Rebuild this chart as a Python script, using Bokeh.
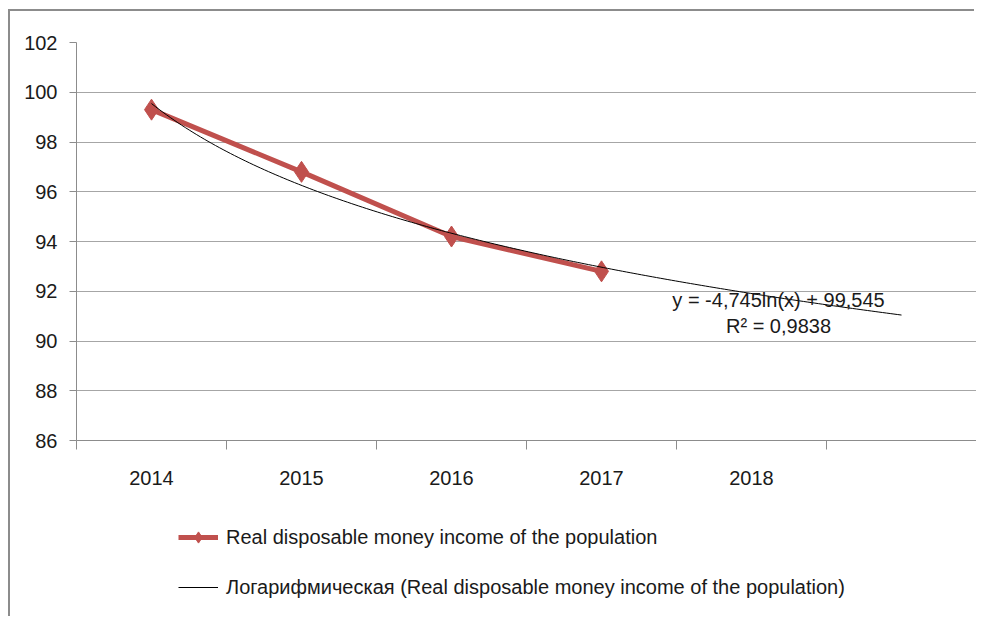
import numpy as np
from bokeh.plotting import figure
from bokeh.layouts import column
from bokeh.models import (Range1d, FixedTicker, Legend, LegendItem, Label, ColumnDataSource)
from bokeh.embed import file_html
from bokeh.resources import INLINE

# ---- data ----
categories = ["2014", "2015", "2016", "2017", "2018", ""]
cat_pos = [1, 2, 3, 4, 5, 6]
income_pos = [1, 2, 3, 4]
income_values = [99.3, 96.8, 94.2, 92.8]
trend_a = -4.745     # from the displayed equation y = a*ln(x) + b
trend_b = 99.545
trend_r2 = "0,9838"
y_ticks = [86, 88, 90, 92, 94, 96, 98, 100, 102]
series_name = "Real disposable money income of the population"
trend_name = "Логарифмическая (Real disposable money income of the population)"

FONT = "Liberation Sans"
TXT = "#1a1a1a"
GRID = "#a6a6a6"
AX = "#8c8c8c"
RED = "#C0504D"

p = figure(width=966, height=489, x_range=Range1d(0.5, 6.5), y_range=Range1d(86, 102),
           output_backend="svg", toolbar_location=None,
           min_border_left=66, min_border_right=0, min_border_top=31, min_border_bottom=60)
p.outline_line_color = None
p.background_fill_color = "white"
p.border_fill_color = "white"

# y axis
p.yaxis.ticker = FixedTicker(ticks=y_ticks, minor_ticks=[])
p.yaxis.axis_line_color = AX
p.yaxis.major_tick_line_color = AX
p.yaxis.major_tick_out = 7
p.yaxis.major_tick_in = 0
p.yaxis.major_label_standoff = 12
p.yaxis.major_label_text_font = FONT
p.yaxis.major_label_text_font_size = "20px"
p.yaxis.major_label_text_color = TXT
p.ygrid.grid_line_color = GRID
p.ygrid.ticker = FixedTicker(ticks=y_ticks)

# x axis: labels at category centres, tick marks at category boundaries
boundaries = [c - 0.5 for c in cat_pos] + [cat_pos[-1] + 0.5]
p.xaxis.ticker = FixedTicker(ticks=cat_pos, minor_ticks=boundaries)
p.xaxis.major_label_overrides = {c: lab for c, lab in zip(cat_pos, categories)}
p.xaxis.axis_line_color = AX
p.xaxis.major_tick_out = 0
p.xaxis.major_tick_in = 0
p.xaxis.minor_tick_line_color = AX
p.xaxis.minor_tick_out = 9
p.xaxis.minor_tick_in = 0
p.xaxis.major_label_standoff = 21
p.xaxis.major_label_text_font = FONT
p.xaxis.major_label_text_font_size = "20px"
p.xaxis.major_label_text_color = TXT
p.xgrid.grid_line_color = None

# series
src = ColumnDataSource(dict(x=income_pos, y=income_values))
p.line("x", "y", source=src, line_color=RED, line_width=5)
p.scatter("x", "y", source=src, marker="diamond", size=21, fill_color=RED, line_color=RED)

# logarithmic trend line (from the chart's equation)
tx = np.linspace(cat_pos[0], cat_pos[-1], 200)
ty = trend_a * np.log(tx) + trend_b
p.line(tx, ty, line_color="black", line_width=1)

# equation labels
p.add_layout(Label(x=5.18, y=91.63, text="y = -4,745ln(x) + 99,545", text_align="center",
                   text_baseline="middle", text_font=FONT, text_font_size="20px", text_color=TXT))
p.add_layout(Label(x=5.18, y=90.6, text="R² = " + trend_r2, text_align="center",
                   text_baseline="middle", text_font=FONT, text_font_size="20px", text_color=TXT))

# ---- legend panel (separate figure below the chart) ----
lg = figure(width=966, height=118, x_range=Range1d(0, 1), y_range=Range1d(0, 1),
            output_backend="svg", toolbar_location=None,
            x_axis_location=None, y_axis_location=None,
            min_border_left=66, min_border_right=0, min_border_top=0, min_border_bottom=0)
lg.outline_line_color = None
lg.grid.grid_line_color = None
off = ColumnDataSource(dict(x=[-5, -4], y=[-5, -5]))   # off-screen, only for legend swatches
l1 = lg.line("x", "y", source=off, line_color=RED, line_width=5)
m1 = lg.scatter("x", "y", source=off, marker="diamond", size=16, fill_color=RED, line_color=RED)
l2 = lg.line("x", "y", source=off, line_color="black", line_width=1)

legend = Legend(items=[LegendItem(label=series_name, renderers=[l1, m1]),
                       LegendItem(label=trend_name, renderers=[l2])],
                location=(102, 17), orientation="vertical", padding=0, margin=0,
                spacing=22, glyph_width=40, glyph_height=28, label_height=28,
                label_standoff=8, label_text_font=FONT, label_text_font_size="20px",
                label_text_color=TXT, border_line_color=None, background_fill_alpha=0)
lg.add_layout(legend)

layout = column(p, lg, spacing=0,
                styles={"position": "relative", "left": "10px", "top": "11px",
                        "box-shadow": "-2px -2px 0 0 #8c8c8c"})
open("out.html", "w").write(file_html(layout, INLINE))
